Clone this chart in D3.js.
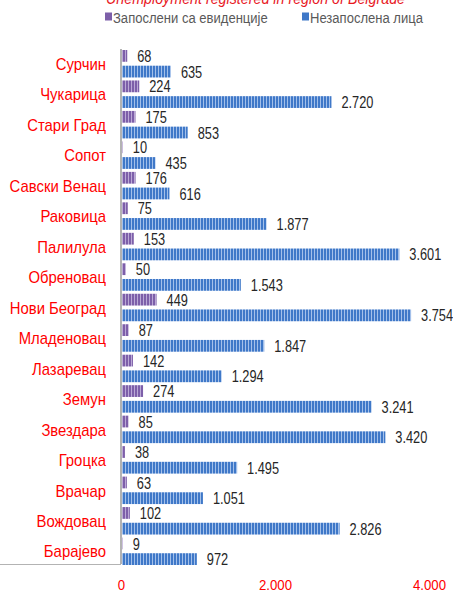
<!DOCTYPE html>
<html>
<head>
<meta charset="utf-8">
<script src="https://cdn.jsdelivr.net/npm/d3@7"></script>
<style>
  body { margin: 0; background: #fff; }
  svg { display: block; }
</style>
</head>
<body>
<script>
// Data
const categories = ["Сурчин", "Чукарица", "Стари Град", "Сопот", "Савски Венац", "Раковица",
    "Палилула", "Обреновац", "Нови Београд", "Младеновац", "Лазаревац", "Земун",
    "Звездара", "Гроцка", "Врачар", "Вождовац", "Барајево"];
const employed = [68, 224, 175, 10, 176, 75, 153, 50, 449, 87, 142, 274, 85, 38, 63, 102, 9];
const unemployed = [635, 2720, 853, 435, 616, 1877, 3601, 1543, 3754, 1847, 1294, 3241, 3420, 1495, 1051, 2826, 972];
const seriesKeys = ["employed", "unemployed"];
const seriesNames = ["Запослени са евиденције", "Незапослена лица"];
const xTicks = [0, 2000, 4000];
const title = "Unemployment registered in region of Belgrade";

const W = 453, H = 594;
const font = "'Liberation Sans', Arial, sans-serif";

const svg = d3.select("body").append("svg")
    .attr("width", W)
    .attr("height", H);

// The original text is squeezed horizontally, so texts get a scaleX
function squeeze(sel, s) {
    sel.each(function () {
        const t = d3.select(this);
        const x0 = +t.attr("x") || 0;
        t.attr("x", x0 / s).attr("transform", `scale(${s},1)`);
    });
}

// Striped fills like the original bars
const defs = svg.append("defs");
const fills = {
    employed: { dark: "#7d5fa9", light: "#bba9d6" },
    unemployed: { dark: "#3f78c8", light: "#a3c0ea" }
};
seriesKeys.forEach(k => {
    const p = defs.append("pattern")
        .attr("id", "pat-" + k)
        .attr("patternUnits", "userSpaceOnUse")
        .attr("width", 3)
        .attr("height", 20);
    p.append("rect").attr("width", 3).attr("height", 20).attr("fill", fills[k].light);
    p.append("rect").attr("width", 2).attr("height", 20).attr("fill", fills[k].dark);
});

const data = categories.map((c, i) => ({ cat: c, employed: employed[i], unemployed: unemployed[i] }));

// Scales
const x = d3.scaleLinear().domain([0, 4000]).range([121, 429]);
const y = d3.scaleBand().domain(categories).range([48, 566]).padding(0);
const ySub = d3.scaleBand().domain(seriesKeys).range([2, y.bandwidth() - 1]).paddingInner(0.25);

const fmt = v => d3.format(",")(v).replace(/,/g, ".");

// Title (clipped at top like the original)
svg.append("text")
    .attr("x", 106)
    .attr("y", 4)
    .style("font-family", font)
    .style("font-style", "italic")
    .style("font-size", "17px")
    .style("fill", "#e8191f")
    .text(title)
    .call(squeeze, 0.84);

// Legend
const legend = svg.append("g").attr("class", "legend");
const legendX = [105, 302];
seriesKeys.forEach((k, i) => {
    legend.append("rect")
        .attr("x", legendX[i])
        .attr("y", 12.5)
        .attr("width", 7)
        .attr("height", 8)
        .attr("fill", fills[k].dark);
    legend.append("text")
        .attr("x", legendX[i] + 8)
        .attr("y", 23)
        .style("font-family", font)
        .style("font-size", "15px")
        .style("fill", "#595959")
        .text(seriesNames[i])
        .call(squeeze, 0.87);
});

// Bars
const groups = svg.selectAll("g.cat")
    .data(data)
    .enter().append("g")
    .attr("class", "cat")
    .attr("transform", d => `translate(0,${y(d.cat)})`);

groups.selectAll("rect")
    .data(d => seriesKeys.map(k => ({ key: k, value: d[k] })))
    .enter().append("rect")
    .attr("x", x(0) + 1)
    .attr("y", d => ySub(d.key))
    .attr("width", d => x(d.value) - x(0))
    .attr("height", ySub.bandwidth())
    .attr("fill", d => `url(#pat-${d.key})`);

// Value labels
groups.selectAll("text.val")
    .data(d => seriesKeys.map(k => ({ key: k, value: d[k] })))
    .enter().append("text")
    .attr("class", "val")
    .attr("x", d => x(d.value) + 11)
    .attr("y", d => ySub(d.key) + ySub.bandwidth() / 2)
    .attr("dy", "0.38em")
    .style("font-family", font)
    .style("font-size", "16px")
    .style("fill", "#262626")
    .text(d => fmt(d.value))
    .call(squeeze, 0.8);

// Category axis
const yAxis = svg.append("g")
    .attr("class", "y-axis")
    .attr("transform", `translate(${x(0)},0)`)
    .call(d3.axisLeft(y).tickSize(0).tickPadding(15));
yAxis.select(".domain").remove();
yAxis.selectAll("text")
    .attr("dy", "0.42em")
    .style("font-family", font)
    .style("font-size", "16px")
    .style("fill", "#ff0000")
    .call(squeeze, 0.93);

svg.append("line")
    .attr("x1", x(0)).attr("x2", x(0))
    .attr("y1", 49).attr("y2", 564)
    .attr("stroke", "#b3b3b3")
    .attr("stroke-width", 2);
svg.append("line")
    .attr("x1", 0).attr("x2", x(0))
    .attr("y1", 564.5).attr("y2", 564.5)
    .attr("stroke", "#b3b3b3")
    .attr("stroke-width", 1);

// Value axis
const xAxis = svg.append("g")
    .attr("class", "x-axis")
    .attr("transform", "translate(0,576)")
    .call(d3.axisBottom(x).tickValues(xTicks).tickSize(0).tickFormat(fmt));
xAxis.select(".domain").remove();
xAxis.selectAll("text")
    .style("font-family", font)
    .style("font-size", "15px")
    .style("fill", "#ff0000")
    .call(squeeze, 0.88);
</script>
</body>
</html>
